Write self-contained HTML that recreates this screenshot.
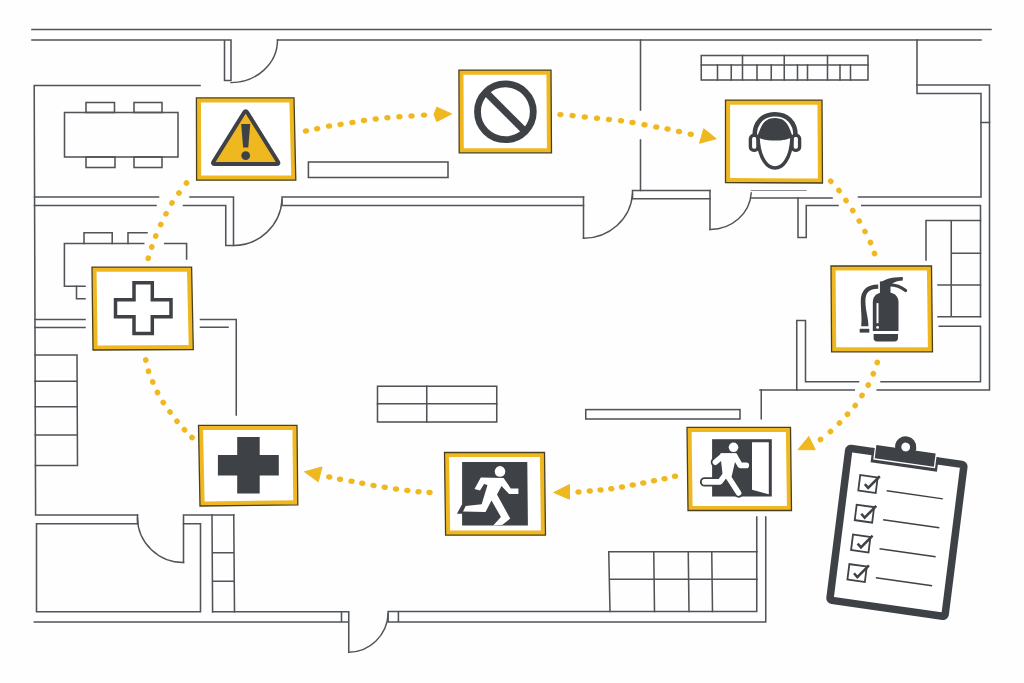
<!DOCTYPE html>
<html><head><meta charset="utf-8"><title>Safety floor plan</title>
<style>html,body{margin:0;padding:0;background:#fefefe;}svg{display:block}</style></head>
<body><svg width="1024" height="683" viewBox="0 0 1024 683">
<rect width="1024" height="683" fill="#fefefe"/>
<g stroke-linecap="square">
<line x1="32" y1="29.5" x2="991" y2="29.5" stroke="#505358" stroke-width="1.55"/>
<path d="M32,40 H231 M224.5,40 V80.5 H231 V40" stroke="#505358" stroke-width="1.55" fill="none" />
<path d="M231,82.6 A46.5,42.6 0 0 0 277.5,40" stroke="#505358" stroke-width="1.45" fill="none" />
<path d="M277.5,40 H981" stroke="#505358" stroke-width="1.55" fill="none" />
<path d="M200,85.5 H34.2 L35.6,515 H137.5" stroke="#505358" stroke-width="1.55" fill="none" />
<rect x="64.5" y="112.5" width="113.5" height="44.5" stroke="#505358" stroke-width="1.55" fill="none"/>
<rect x="86" y="102.5" width="28.5" height="10.0" stroke="#505358" stroke-width="1.55" fill="none"/>
<rect x="134" y="102.5" width="28" height="10.0" stroke="#505358" stroke-width="1.55" fill="none"/>
<rect x="86" y="157" width="29" height="10.5" stroke="#505358" stroke-width="1.55" fill="none"/>
<rect x="134" y="157" width="28" height="10.5" stroke="#505358" stroke-width="1.55" fill="none"/>
<path d="M34.5,197 H158.5 M34.5,205.5 H156" stroke="#505358" stroke-width="1.55" fill="none" />
<path d="M190,197 H233.5 V245.5 H225.75 V205.5 H183.5" stroke="#505358" stroke-width="1.55" fill="none" />
<path d="M233.5,245.5 A48.5,48.5 0 0 0 282,200" stroke="#505358" stroke-width="1.45" fill="none" />
<path d="M583.5,197 H282 V205.5 H583.5" stroke="#505358" stroke-width="1.55" fill="none" />
<path d="M583.5,197 V238.25" stroke="#505358" stroke-width="1.55" fill="none" />
<path d="M583.5,238.25 A49,47.5 0 0 0 632.5,194" stroke="#505358" stroke-width="1.45" fill="none" />
<path d="M710,190.5 H632.5 V198.75 H710" stroke="#505358" stroke-width="1.55" fill="none" />
<path d="M710,190.5 V229.5" stroke="#505358" stroke-width="1.55" fill="none" />
<path d="M710,229.5 A41,39 0 0 0 751.25,193" stroke="#505358" stroke-width="1.45" fill="none" />
<path d="M640.5,40 V110 M640.5,140 V190.5" stroke="#505358" stroke-width="1.55" fill="none" />
<rect x="308.4" y="162" width="139.60000000000002" height="15.5" stroke="#505358" stroke-width="1.55" fill="none"/>
<path d="M751.25,190.5 H806" stroke="#8a8c90" stroke-width="1.2" fill="none" />
<path d="M751.25,198 H832 M858.5,197 H981 V93.5 H917 V40" stroke="#505358" stroke-width="1.55" fill="none" />
<path d="M917,85 H989.5 V390 H877.25 M854.25,390 H760" stroke="#505358" stroke-width="1.55" fill="none" />
<path d="M981,122.5 H989.5" stroke="#505358" stroke-width="1.55" fill="none" />
<path d="M798,198 V237.5 H806.25 V205.5 H838 M861.75,205.5 H980.5 V316.75" stroke="#505358" stroke-width="1.55" fill="none" />
<path d="M926,260 V220.5 H980.5 M951.25,220.5 V316.75 M951.25,253.25 H980.5 M938,285 H980.5 M938,316.75 H980.5" stroke="#505358" stroke-width="1.55" fill="none" />
<path d="M939.25,326.25 H980.5 V381.75 H881 M858.5,381.75 H805.5 V320.5 H796.75 V390" stroke="#505358" stroke-width="1.55" fill="none" />
<path d="M761.25,390 V418.75" stroke="#505358" stroke-width="1.55" fill="none" />
<rect x="701.25" y="55.5" width="166.75" height="24.5" stroke="#505358" stroke-width="1.55" fill="none"/>
<path d="M701.25,65 H868 M742.5,55.5 V80 M784.25,55.5 V80 M827.5,55.5 V80" stroke="#505358" stroke-width="1.55" fill="none" />
<path d="M717.5,65 V80 M731.25,65 V80 M757,65 V80 M771.25,65 V80 M797.5,65 V80 M807.5,65 V80 M840,65 V80 M850.5,65 V80" stroke="#505358" stroke-width="1.55" fill="none" />
<path d="M143.7,243.5 H64.4 V286.25 H85 M164.7,243.5 H186.6 V259" stroke="#505358" stroke-width="1.55" fill="none" />
<path d="M84,243.5 V232.8 H112.2 V243.5 M128,243.5 V232.8 H147" stroke="#505358" stroke-width="1.55" fill="none" />
<path d="M76.5,286.25 V298.8 H85" stroke="#505358" stroke-width="1.55" fill="none" />
<path d="M35,319.5 H85 M35,327.5 H85 M200.5,319.5 H236.25 V415 M200.5,327.3 H228" stroke="#505358" stroke-width="1.55" fill="none" />
<path d="M35,355 H77 L77.5,465.5 H35.4 M35,381.25 H77 M35.2,406.75 H77.2 M35.3,435 H77.3" stroke="#505358" stroke-width="1.55" fill="none" />
<path d="M137.5,515 V523.75 H36.5 V611.75 H200.5 V523.75 H183.5" stroke="#505358" stroke-width="1.55" fill="none" />
<path d="M183.5,562.5 V515 H233.75" stroke="#505358" stroke-width="1.55" fill="none" />
<path d="M137.5,518 A46,45 0 0 0 183.5,562.5" stroke="#505358" stroke-width="1.45" fill="none" />
<path d="M212,515 L212.6,611.75 M233.75,515 L234.5,611.75 M212.2,552.75 H234 M212.4,581.25 H234.2" stroke="#505358" stroke-width="1.55" fill="none" />
<path d="M212.6,611.75 H348.75 M34.3,622 H348.75 M341.5,611.75 V622 M348.75,611.75 V652.2" stroke="#505358" stroke-width="1.55" fill="none" />
<path d="M348.75,652.2 A40,40 0 0 0 388.1,614" stroke="#505358" stroke-width="1.45" fill="none" />
<path d="M388.1,611.75 V622 M398.4,611.75 V622 M388.1,611.5 H756.75 V517 M388.1,622 H765.75 V517" stroke="#505358" stroke-width="1.55" fill="none" />
<path d="M608.75,551.75 H757 M609.3,579.25 H757 M608.75,551.75 L610,611.5 M653.75,551.75 L654.5,611.5 M688.25,551.75 L689,611.5 M711.75,551.75 L712.5,611.5" stroke="#505358" stroke-width="1.55" fill="none" />
<rect x="377.5" y="386.25" width="119.25" height="35.75" stroke="#505358" stroke-width="1.55" fill="none"/>
<path d="M426.75,386.25 V422 M377.5,403.75 H496.75" stroke="#505358" stroke-width="1.55" fill="none" />
<rect x="585.75" y="409.6" width="154.25" height="9.399999999999977" stroke="#505358" stroke-width="1.55" fill="none"/>
</g>
<ellipse cx="306" cy="131" rx="3.2" ry="2.7" fill="#f0b820" transform="rotate(-11.4 306 131)"/>
<ellipse cx="317.2" cy="128.75" rx="3.2" ry="2.7" fill="#f0b820" transform="rotate(-12.7 317.2 128.75)"/>
<ellipse cx="329" cy="126.1" rx="3.2" ry="2.7" fill="#f0b820" transform="rotate(-8.3 329 126.1)"/>
<ellipse cx="340.6" cy="124.4" rx="3.2" ry="2.7" fill="#f0b820" transform="rotate(-9.6 340.6 124.4)"/>
<ellipse cx="352.4" cy="122.4" rx="3.2" ry="2.7" fill="#f0b820" transform="rotate(-9.3 352.4 122.4)"/>
<ellipse cx="364" cy="120.5" rx="3.2" ry="2.7" fill="#f0b820" transform="rotate(-7.3 364 120.5)"/>
<ellipse cx="375.7" cy="119" rx="3.2" ry="2.7" fill="#f0b820" transform="rotate(-6.3 375.7 119)"/>
<ellipse cx="387.4" cy="117.7" rx="3.2" ry="2.7" fill="#f0b820" transform="rotate(-4.5 387.4 117.7)"/>
<ellipse cx="399.4" cy="116.75" rx="3.2" ry="2.7" fill="#f0b820" transform="rotate(-3.5 399.4 116.75)"/>
<ellipse cx="411.5" cy="116" rx="3.2" ry="2.7" fill="#f0b820" transform="rotate(-4.1 411.5 116)"/>
<ellipse cx="424" cy="115.1" rx="3.2" ry="2.7" fill="#f0b820" transform="rotate(-4.1 424 115.1)"/>
<polygon points="451.6,113.9 436.8,107.2 434,114.4 436.8,121.6" fill="#f0b820" stroke="#f0b820" stroke-width="1" stroke-linejoin="round"/>
<ellipse cx="560.4" cy="114.6" rx="3.2" ry="2.7" fill="#f0b820" transform="rotate(4.7 560.4 114.6)"/>
<ellipse cx="572.6" cy="115.6" rx="3.2" ry="2.7" fill="#f0b820" transform="rotate(6.5 572.6 115.6)"/>
<ellipse cx="584.8" cy="117" rx="3.2" ry="2.7" fill="#f0b820" transform="rotate(6.1 584.8 117)"/>
<ellipse cx="597" cy="118.3" rx="3.2" ry="2.7" fill="#f0b820" transform="rotate(5.7 597 118.3)"/>
<ellipse cx="609" cy="119.5" rx="3.2" ry="2.7" fill="#f0b820" transform="rotate(5.9 609 119.5)"/>
<ellipse cx="621" cy="120.75" rx="3.2" ry="2.7" fill="#f0b820" transform="rotate(8.7 621 120.75)"/>
<ellipse cx="632.5" cy="122.5" rx="3.2" ry="2.7" fill="#f0b820" transform="rotate(10.6 632.5 122.5)"/>
<ellipse cx="644.5" cy="124.75" rx="3.2" ry="2.7" fill="#f0b820" transform="rotate(10.8 644.5 124.75)"/>
<ellipse cx="656.25" cy="127" rx="3.2" ry="2.7" fill="#f0b820" transform="rotate(10.1 656.25 127)"/>
<ellipse cx="667.5" cy="129" rx="3.2" ry="2.7" fill="#f0b820" transform="rotate(12.3 667.5 129)"/>
<ellipse cx="679" cy="131.5" rx="3.2" ry="2.7" fill="#f0b820" transform="rotate(13.2 679 131.5)"/>
<ellipse cx="690.75" cy="134.25" rx="3.2" ry="2.7" fill="#f0b820" transform="rotate(13.2 690.75 134.25)"/>
<polygon points="716.25,138.75 703.75,128.75 699.5,143.25" fill="#f0b820" stroke="#f0b820" stroke-width="1" stroke-linejoin="round"/>
<ellipse cx="830.75" cy="181.25" rx="2.9" ry="2.8" fill="#f0b820" transform="rotate(48.3 830.75 181.25)"/>
<ellipse cx="839" cy="190.5" rx="2.9" ry="2.8" fill="#f0b820" transform="rotate(55.0 839 190.5)"/>
<ellipse cx="846" cy="200.5" rx="2.9" ry="2.8" fill="#f0b820" transform="rotate(56.0 846 200.5)"/>
<ellipse cx="852.75" cy="210.5" rx="2.9" ry="2.8" fill="#f0b820" transform="rotate(58.2 852.75 210.5)"/>
<ellipse cx="859.25" cy="221" rx="2.9" ry="2.8" fill="#f0b820" transform="rotate(61.3 859.25 221)"/>
<ellipse cx="865" cy="231.5" rx="2.9" ry="2.8" fill="#f0b820" transform="rotate(63.4 865 231.5)"/>
<ellipse cx="870.5" cy="242.5" rx="2.9" ry="2.8" fill="#f0b820" transform="rotate(70.0 870.5 242.5)"/>
<ellipse cx="874.5" cy="253.5" rx="2.9" ry="2.8" fill="#f0b820" transform="rotate(70.0 874.5 253.5)"/>
<ellipse cx="877.25" cy="362.5" rx="2.9" ry="2.8" fill="#f0b820" transform="rotate(109.6 877.25 362.5)"/>
<ellipse cx="873.25" cy="373.75" rx="2.9" ry="2.8" fill="#f0b820" transform="rotate(114.0 873.25 373.75)"/>
<ellipse cx="868.25" cy="385" rx="2.9" ry="2.8" fill="#f0b820" transform="rotate(120.8 868.25 385)"/>
<ellipse cx="862" cy="395.5" rx="2.9" ry="2.8" fill="#f0b820" transform="rotate(124.0 862 395.5)"/>
<ellipse cx="855.25" cy="405.5" rx="2.9" ry="2.8" fill="#f0b820" transform="rotate(131.5 855.25 405.5)"/>
<ellipse cx="847.5" cy="414.25" rx="2.9" ry="2.8" fill="#f0b820" transform="rotate(132.4 847.5 414.25)"/>
<ellipse cx="839.5" cy="423" rx="2.9" ry="2.8" fill="#f0b820" transform="rotate(136.6 839.5 423)"/>
<ellipse cx="830.5" cy="431.5" rx="2.9" ry="2.8" fill="#f0b820" transform="rotate(141.3 830.5 431.5)"/>
<ellipse cx="820.5" cy="439.5" rx="2.9" ry="2.8" fill="#f0b820" transform="rotate(141.3 820.5 439.5)"/>
<polygon points="808.75,436.5 798,449.7 815.3,449.7" fill="#f0b820" stroke="#f0b820" stroke-width="1" stroke-linejoin="round"/>
<ellipse cx="675" cy="476.25" rx="3.2" ry="2.7" fill="#f0b820" transform="rotate(166.6 675 476.25)"/>
<ellipse cx="664.5" cy="478.75" rx="3.2" ry="2.7" fill="#f0b820" transform="rotate(169.2 664.5 478.75)"/>
<ellipse cx="654" cy="480.75" rx="3.2" ry="2.7" fill="#f0b820" transform="rotate(168.2 654 480.75)"/>
<ellipse cx="643.25" cy="483" rx="3.2" ry="2.7" fill="#f0b820" transform="rotate(169.2 643.25 483)"/>
<ellipse cx="632.75" cy="485" rx="3.2" ry="2.7" fill="#f0b820" transform="rotate(169.5 632.75 485)"/>
<ellipse cx="622" cy="487" rx="3.2" ry="2.7" fill="#f0b820" transform="rotate(170.8 622 487)"/>
<ellipse cx="611.25" cy="488.75" rx="3.2" ry="2.7" fill="#f0b820" transform="rotate(173.4 611.25 488.75)"/>
<ellipse cx="600.5" cy="490" rx="3.2" ry="2.7" fill="#f0b820" transform="rotate(174.7 600.5 490)"/>
<ellipse cx="589.75" cy="491" rx="3.2" ry="2.7" fill="#f0b820" transform="rotate(174.9 589.75 491)"/>
<ellipse cx="578.5" cy="492" rx="3.2" ry="2.7" fill="#f0b820" transform="rotate(174.9 578.5 492)"/>
<polygon points="553.75,492.5 569.5,484.5 569.5,499.25" fill="#f0b820" stroke="#f0b820" stroke-width="1" stroke-linejoin="round"/>
<ellipse cx="429.5" cy="492.5" rx="3.2" ry="2.7" fill="#f0b820" transform="rotate(-176.1 429.5 492.5)"/>
<ellipse cx="418.5" cy="491.75" rx="3.2" ry="2.7" fill="#f0b820" transform="rotate(-173.7 418.5 491.75)"/>
<ellipse cx="407.25" cy="490.5" rx="3.2" ry="2.7" fill="#f0b820" transform="rotate(-172.4 407.25 490.5)"/>
<ellipse cx="396" cy="489" rx="3.2" ry="2.7" fill="#f0b820" transform="rotate(-171.2 396 489)"/>
<ellipse cx="384.75" cy="487.25" rx="3.2" ry="2.7" fill="#f0b820" transform="rotate(-171.2 384.75 487.25)"/>
<ellipse cx="373.5" cy="485.5" rx="3.2" ry="2.7" fill="#f0b820" transform="rotate(-168.7 373.5 485.5)"/>
<ellipse cx="362.25" cy="483.25" rx="3.2" ry="2.7" fill="#f0b820" transform="rotate(-169.5 362.25 483.25)"/>
<ellipse cx="351.5" cy="481.25" rx="3.2" ry="2.7" fill="#f0b820" transform="rotate(-170.1 351.5 481.25)"/>
<ellipse cx="340" cy="479.25" rx="3.2" ry="2.7" fill="#f0b820" transform="rotate(-168.2 340 479.25)"/>
<ellipse cx="329.25" cy="477" rx="3.2" ry="2.7" fill="#f0b820" transform="rotate(-168.2 329.25 477)"/>
<polygon points="304.5,471.75 322,467 318.25,481.75" fill="#f0b820" stroke="#f0b820" stroke-width="1" stroke-linejoin="round"/>
<ellipse cx="192" cy="437.5" rx="2.9" ry="2.8" fill="#f0b820" transform="rotate(-134.1 192 437.5)"/>
<ellipse cx="184.5" cy="429.75" rx="2.9" ry="2.8" fill="#f0b820" transform="rotate(-131.4 184.5 429.75)"/>
<ellipse cx="177" cy="421.25" rx="2.9" ry="2.8" fill="#f0b820" transform="rotate(-127.1 177 421.25)"/>
<ellipse cx="170" cy="412" rx="2.9" ry="2.8" fill="#f0b820" transform="rotate(-125.4 170 412)"/>
<ellipse cx="163.25" cy="402.5" rx="2.9" ry="2.8" fill="#f0b820" transform="rotate(-119.9 163.25 402.5)"/>
<ellipse cx="157.5" cy="392.5" rx="2.9" ry="2.8" fill="#f0b820" transform="rotate(-114.3 157.5 392.5)"/>
<ellipse cx="152.75" cy="382" rx="2.9" ry="2.8" fill="#f0b820" transform="rotate(-111.6 152.75 382)"/>
<ellipse cx="148.5" cy="371.25" rx="2.9" ry="2.8" fill="#f0b820" transform="rotate(-103.7 148.5 371.25)"/>
<ellipse cx="145.75" cy="360" rx="2.9" ry="2.8" fill="#f0b820" transform="rotate(-103.7 145.75 360)"/>
<ellipse cx="148.25" cy="258.25" rx="2.9" ry="2.8" fill="#f0b820" transform="rotate(-72.7 148.25 258.25)"/>
<ellipse cx="151.75" cy="247" rx="2.9" ry="2.8" fill="#f0b820" transform="rotate(-70.0 151.75 247)"/>
<ellipse cx="155.75" cy="236" rx="2.9" ry="2.8" fill="#f0b820" transform="rotate(-66.5 155.75 236)"/>
<ellipse cx="160.75" cy="224.5" rx="2.9" ry="2.8" fill="#f0b820" transform="rotate(-64.0 160.75 224.5)"/>
<ellipse cx="166" cy="213.75" rx="2.9" ry="2.8" fill="#f0b820" transform="rotate(-60.8 166 213.75)"/>
<ellipse cx="172" cy="203" rx="2.9" ry="2.8" fill="#f0b820" transform="rotate(-55.0 172 203)"/>
<ellipse cx="179" cy="193" rx="2.9" ry="2.8" fill="#f0b820" transform="rotate(-53.1 179 193)"/>
<ellipse cx="186.5" cy="183" rx="2.9" ry="2.8" fill="#f0b820" transform="rotate(-53.1 186.5 183)"/>
<polygon points="196.4,97.9 294,97.9 295.8,180.2 196.6,180.2" fill="#f0b820" stroke="#4a4020" stroke-width="1.3" stroke-linejoin="miter"/>
<polygon points="201.0,102.5 289.4,102.5 291.2,175.6 201.2,175.6" fill="#ffffff"/>
<path d="M244.11,112.55 Q245.7,110.0 247.29,112.55 L277.81,161.55 Q279.4,164.1 276.40,164.10 L215.00,164.10 Q212.0,164.1 213.59,161.55 Z" fill="#f0b820" stroke="#3e4146" stroke-width="4" stroke-linejoin="round"/>
<path d="M241.2,124 H250.2 L248.3,147.5 H243.1 Z" fill="#3e4146"/>
<circle cx="245.7" cy="155.6" r="4.4" fill="#3e4146"/>
<polygon points="458.9,70.1 551,70.1 551.5,152.8 459.2,152.8" fill="#f0b820" stroke="#4a4020" stroke-width="1.3" stroke-linejoin="miter"/>
<polygon points="463.5,74.69999999999999 546.4,74.69999999999999 546.9,148.20000000000002 463.8,148.20000000000002" fill="#ffffff"/>
<circle cx="505.4" cy="111.8" r="27.9" fill="none" stroke="#3e4146" stroke-width="6.8"/>
<line x1="485.9" y1="92.3" x2="524.9" y2="131.3" stroke="#3e4146" stroke-width="7"/>
<polygon points="725.5,100.1 822,100.1 822.5,183 725.5,182.6" fill="#f0b820" stroke="#4a4020" stroke-width="1.3" stroke-linejoin="miter"/>
<polygon points="730.1,104.69999999999999 817.4,104.69999999999999 817.9,178.4 730.1,178.0" fill="#ffffff"/>
<rect x="750.4" y="135.4" width="7.6" height="15" rx="3.4" fill="#ffffff" stroke="#3e4146" stroke-width="3.4"/>
<rect x="792" y="135.4" width="7.6" height="15" rx="3.4" fill="#ffffff" stroke="#3e4146" stroke-width="3.4"/>
<path d="M757.6,136 L758.6,150 L791.4,150 L792.4,136 Z" fill="#ffffff"/>
<path d="M754.6,135.5 C754.6,122 763,114.2 775,114.2 C787,114.2 795.6,122 795.6,135.5" fill="none" stroke="#3e4146" stroke-width="4.6"/>
<path d="M756.8,136.4 C760.4,132 760.4,118 775,117.9 C789.6,118 789.6,132 793.2,136.4 C786,142 764,142 756.8,136.4 Z" fill="#3e4146"/>
<path d="M758,137 C758.4,148 761,156.5 764.5,161.5 C767.5,166 771,168 775,168 C779,168 782.5,166 785.5,161.5 C789,156.5 791.6,148 792,137" fill="none" stroke="#3e4146" stroke-width="3.5"/>
<polygon points="831,266 931.5,266 932.5,351.8 831.6,351.8" fill="#f0b820" stroke="#4a4020" stroke-width="1.3" stroke-linejoin="miter"/>
<polygon points="835.6,270.6 926.9,270.6 927.9,347.2 836.2,347.2" fill="#ffffff"/>
<path d="M872.8,331.1 V302.5 C872.8,295 878,292.3 885.6,292.3 C893.3,292.3 898.5,295 898.5,302.5 V331.1 Z" fill="#3e4146"/>
<path d="M873.6,334 H898 V338 Q898,341.4 894.5,341.4 H877.1 Q873.6,341.4 873.6,338 Z" fill="#3e4146"/>
<rect x="879.9" y="281.4" width="10.6" height="11.6" fill="#3e4146"/>
<path d="M879.9,283.6 C884,279.5 890,277.4 902.8,277.1 L902.8,280.5 C896,281 892.5,282.8 890.5,285.5 Z" fill="#3e4146"/>
<path d="M889.5,284.9 C896,284.9 901,286.8 905.6,290.6" fill="none" stroke="#3e4146" stroke-width="3.2" stroke-linecap="round"/>
<path d="M878.2,284.4 C866,284.4 860.8,291 860.8,301 C860.8,311 862.2,318 861.2,326.2 H868.4 C868.6,318 865.4,311 865.4,301 C865.4,293 869,288.8 878.2,288.8 Z" fill="#3e4146"/>
<rect x="859.7" y="328.8" width="9.6" height="3.8" fill="#3e4146"/>
<line x1="877.5" y1="303.1" x2="877.5" y2="323.2" stroke="#ffffff" stroke-width="2"/>
<circle cx="877.6" cy="327.4" r="1.4" fill="#ffffff"/>
<polygon points="687,427.3 790.5,427.3 791.5,510.5 688,510.5" fill="#f0b820" stroke="#4a4020" stroke-width="1.3" stroke-linejoin="miter"/>
<polygon points="691.6,431.90000000000003 785.9,431.90000000000003 786.9,505.9 692.6,505.9" fill="#ffffff"/>
<rect x="712.1" y="439.2" width="59.7" height="57.3" fill="#3e4146"/>
<polygon points="752,442.2 768.8,442.2 768.8,494.2 752,489.8" fill="#ffffff"/>
<path d="M722.5,456.2 L715.4,462.2 M722.5,456.2 H735 M735,456.5 L740.2,465.4 H746.3 M728.5,456 L726,474.5 M727,475 L738.6,493 M725.5,474.5 L720,481.9 H704.6" fill="none" stroke="#3e4146" stroke-width="9.4" stroke-linecap="round" stroke-linejoin="round"/>
<rect x="713" y="440" width="38" height="55.5" fill="#3e4146"/>
<path d="M722.5,456.2 L715.4,462.2 M722.5,456.2 H735 M735,456.5 L740.2,465.4 H746.3 M728.5,456 L726,474.5 M727,475 L738.6,493 M725.5,474.5 L720,481.9 H704.6" fill="none" stroke="#ffffff" stroke-width="5.6" stroke-linecap="round" stroke-linejoin="round"/>
<path d="M721,454 H736 L731,476 H723.5 Z" fill="#ffffff" stroke="#ffffff" stroke-width="1.5" stroke-linejoin="round"/>
<circle cx="733.5" cy="447.3" r="4.8" fill="#ffffff"/>
<polygon points="444.5,452.5 544.5,452.5 545.5,535.2 445.6,535.2" fill="#f0b820" stroke="#4a4020" stroke-width="1.3" stroke-linejoin="miter"/>
<polygon points="449.1,457.1 539.9,457.1 540.9,530.6 450.20000000000005,530.6" fill="#ffffff"/>
<polygon points="462.1,462 527.3,462 527.9,525.4 462.1,525.4 462.1,513.7 456.9,513.7 462.1,504.3" fill="#3e4146"/>
<path d="M480.8,477.4 L503.6,478 L510.75,488.4 L518.4,488.6 L518.4,493.9 L509.1,493.9 L501.5,486 L497,494.4 L510.2,518.6 L502.5,524.8 L493.2,525.4 L500.9,517 L491.5,500.5 L485.5,512 L463,511.5 L465.7,506 L481.65,504.3 L487.5,485 L484,484 L480,490.5 L474.5,489 Z" fill="#ffffff"/>
<circle cx="500" cy="471.4" r="5.3" fill="#ffffff"/>
<polygon points="198.5,425.4 297,425.4 297.8,504.8 200,506" fill="#f0b820" stroke="#4a4020" stroke-width="1.3" stroke-linejoin="miter"/>
<polygon points="203.1,430.0 292.4,430.0 293.2,500.2 204.6,501.4" fill="#ffffff"/>
<path d="M237.2,437 H259.7 V455 H278.8 V475.6 H259.7 V493.4 H237.2 V475.6 H217.9 V455 H237.2 Z" fill="#3e4146"/>
<polygon points="92,267.1 191.6,267.1 193.3,349.5 93,350" fill="#f0b820" stroke="#4a4020" stroke-width="1.3" stroke-linejoin="miter"/>
<polygon points="96.6,271.70000000000005 187.0,271.70000000000005 188.70000000000002,344.9 97.6,345.4" fill="#ffffff"/>
<path d="M134,282.8 H152.3 V299.8 H171 V316.8 H152.3 V333.6 H134 V316.8 H115.5 V299.8 H134 Z" fill="none" stroke="#3e4146" stroke-width="3.5" stroke-linejoin="miter"/>
<g transform="matrix(0.98997,0.14131,-0.12526,0.99212,845.7,444.0)">
<rect x="3.75" y="3.75" width="116.3" height="153.0" rx="2.2" fill="#ffffff" stroke="#3e4146" stroke-width="7.5" stroke-linejoin="round"/>
<rect x="27.0" y="0" width="67.0" height="14.5" fill="#3e4146"/>
<rect x="29.3" y="-6.3" width="62.4" height="17.7" fill="#ffffff"/>
<circle cx="59.9" cy="-5.5" r="10.7" fill="#3e4146"/>
<rect x="30.6" y="-3.3" width="59.8" height="13.4" fill="#3e4146"/>
<circle cx="59.9" cy="-5.5" r="4.4" fill="#ffffff"/>
<rect x="18.3" y="28.6" width="17.6" height="15.6" fill="none" stroke="#3e4146" stroke-width="1.8"/>
<path d="M24.0,37.0 L27.8,40.3 L37.9,27.1" fill="none" stroke="#3e4146" stroke-width="2.5"/>
<line x1="46.6" y1="40.6" x2="103.3" y2="40.6" stroke="#3e4146" stroke-width="1.5"/>
<rect x="18.5" y="58.5" width="17.6" height="15.6" fill="none" stroke="#3e4146" stroke-width="1.8"/>
<path d="M24.2,66.9 L28.0,70.2 L38.1,57.0" fill="none" stroke="#3e4146" stroke-width="2.5"/>
<line x1="46.6" y1="69.8" x2="103.4" y2="69.8" stroke="#3e4146" stroke-width="1.5"/>
<rect x="18.6" y="88.5" width="17.6" height="15.6" fill="none" stroke="#3e4146" stroke-width="1.8"/>
<path d="M24.3,96.9 L28.1,100.2 L38.2,87.0" fill="none" stroke="#3e4146" stroke-width="2.5"/>
<line x1="46.7" y1="99.0" x2="103.4" y2="99.0" stroke="#3e4146" stroke-width="1.5"/>
<rect x="18.7" y="118.4" width="17.6" height="15.6" fill="none" stroke="#3e4146" stroke-width="1.8"/>
<path d="M24.4,126.8 L28.2,130.1 L38.3,116.9" fill="none" stroke="#3e4146" stroke-width="2.5"/>
<line x1="46.7" y1="128.2" x2="103.5" y2="128.2" stroke="#3e4146" stroke-width="1.5"/>
</g>
</svg></body></html>
